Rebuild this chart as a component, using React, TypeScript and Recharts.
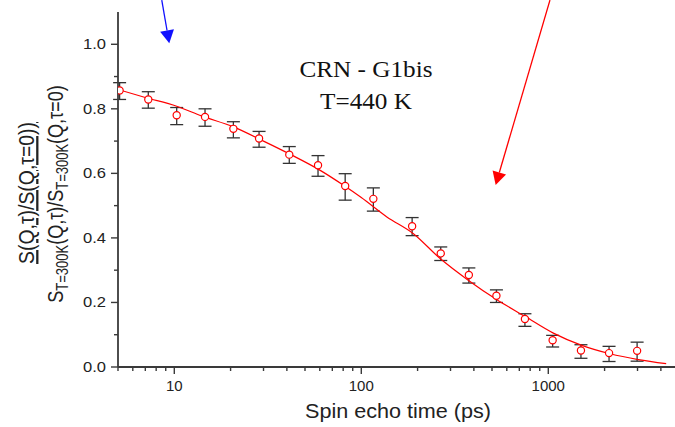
import React from 'react';
import {
  ComposedChart,
  Line,
  Scatter,
  ErrorBar,
  XAxis,
  YAxis,
  ReferenceLine,
} from 'recharts';

// measured points (spin echo time in ps, normalised S)
const echoTime = [5.1, 7.26, 10.3, 14.6, 20.7, 28.4, 41.2, 58.7, 82, 116, 187, 266, 376, 528, 750, 1055, 1495, 2113, 2985];
const sValue = [0.857, 0.829, 0.78, 0.775, 0.738, 0.708, 0.658, 0.625, 0.561, 0.521, 0.436, 0.352, 0.285, 0.221, 0.149, 0.083, 0.051, 0.043, 0.05];
const errLow = [0.028, 0.027, 0.029, 0.029, 0.028, 0.027, 0.027, 0.034, 0.044, 0.038, 0.029, 0.022, 0.025, 0.021, 0.023, 0.021, 0.024, 0.026, 0.032];
const errHigh = [0.024, 0.024, 0.024, 0.025, 0.022, 0.022, 0.025, 0.030, 0.038, 0.034, 0.027, 0.020, 0.022, 0.018, 0.016, 0.015, 0.018, 0.021, 0.027];

// fit curve
const fitTime = [5, 7, 10.3, 14, 20.7, 30, 41.7, 60, 80.4, 100, 137, 190, 264, 373, 529, 750, 1064, 1510, 2138, 3030, 4270];
const fitValue = [0.86, 0.835, 0.808, 0.778, 0.744, 0.7, 0.659, 0.61, 0.563, 0.525, 0.465, 0.413, 0.336, 0.269, 0.209, 0.157, 0.105, 0.067, 0.041, 0.023, 0.0105];

const xTicks = [5, 6, 7, 8, 9, 10, 20, 30, 40, 50, 60, 70, 80, 90, 100, 200, 300, 400, 500, 600, 700, 800, 900, 1000, 2000, 3000, 4000, 5000];
const xMajor = [10, 100, 1000];
const yTicks = [0, 0.1, 0.2, 0.3, 0.4, 0.5, 0.6, 0.7, 0.8, 0.9, 1.0];

// arrows: [start, tip]
const blueArrow = [{ x: 8.57, y: 1.137 }, { x: 9.4, y: 1.003 }];
const redArrow = [{ x: 1021, y: 1.137 }, { x: 523, y: 0.564 }];

const points = echoTime.map((t, i) => ({ x: t, y: sValue[i], err: [errLow[i], errHigh[i]] }));
const fit = fitTime.map((t, i) => ({ x: t, y: fitValue[i] }));

const AXIS = '#3a3a3a';
const SANS = '"Liberation Sans", Arial, sans-serif';
const SERIF = '"Liberation Serif", "Times New Roman", serif';

const isMajorY = (v: number) => Math.round(v * 10) % 2 === 0;

const BottomTick = (p: any) => {
  const v = p.payload.value;
  const major = xMajor.includes(v);
  return (
    <g>
      <line x1={p.x} y1={p.y} x2={p.x} y2={p.y + (major ? 7 : 4)} stroke={AXIS} strokeWidth={1.4} />
      {major && (
        <text x={p.x} y={p.y + 24} textAnchor="middle" fontSize={15} fontFamily={SANS} fill="#222">
          {v}
        </text>
      )}
    </g>
  );
};

const TopTick = (p: any) => {
  const major = xMajor.includes(p.payload.value);
  return <line x1={p.x} y1={p.y} x2={p.x} y2={p.y + (major ? 6 : 4)} stroke={AXIS} strokeWidth={1.4} />;
};

const LeftTick = (p: any) => {
  const v = p.payload.value;
  const major = isMajorY(v);
  return (
    <g>
      <line x1={p.x} y1={p.y} x2={p.x - (major ? 7 : 4)} y2={p.y} stroke={AXIS} strokeWidth={1.4} />
      {major && (
        <text x={p.x - 12} y={p.y + 5} textAnchor="end" fontSize={15} fontFamily={SANS} fill="#222" textLength={23} lengthAdjust="spacingAndGlyphs">
          {v.toFixed(1)}
        </text>
      )}
    </g>
  );
};

const RightTick = (p: any) => {
  const major = isMajorY(p.payload.value);
  return <line x1={p.x} y1={p.y} x2={p.x - (major ? 7 : 4)} y2={p.y} stroke={AXIS} strokeWidth={1.4} />;
};

const arrow = (color: string) => (props: any) => {
  const { x1, y1, x2, y2 } = props;
  const a = Math.atan2(y2 - y1, x2 - x1);
  const len = 13;
  const half = 7;
  const bx = x2 - len * Math.cos(a);
  const by = y2 - len * Math.sin(a);
  const px = -Math.sin(a) * half;
  const py = Math.cos(a) * half;
  return (
    <g>
      <line x1={x1} y1={y1} x2={bx} y2={by} stroke={color} strokeWidth={1.3} />
      <polygon points={`${x2},${y2} ${bx + px},${by + py} ${bx - px},${by - py}`} fill={color} />
    </g>
  );
};

const Dot = (p: any) => <circle cx={p.cx} cy={p.cy} r={3.6} fill="#fff" stroke="#ff0000" strokeWidth={1.2} />;

export default function App() {
  return (
    <div style={{ position: 'absolute', left: 0, top: 0, width: 675, height: 427, overflow: 'hidden', background: '#fff' }}>
      <ComposedChart width={684} height={427} margin={{ top: 12, right: 5, bottom: 0, left: 0 }}>
        <XAxis
          dataKey="x"
          type="number"
          scale="log"
          domain={[5, 5000]}
          allowDataOverflow
          ticks={xTicks}
          interval={0}
          tickSize={0}
          tickMargin={0}
          tick={<BottomTick />}
          axisLine={{ stroke: AXIS, strokeWidth: 1.8 }}
          height={60}
        />
        <XAxis
          xAxisId="top"
          orientation="top"
          dataKey="x"
          type="number"
          scale="log"
          domain={[5, 5000]}
          allowDataOverflow
          ticks={xTicks}
          interval={0}
          tickSize={0}
          tickMargin={0}
          tick={<TopTick />}
          axisLine={{ stroke: AXIS, strokeWidth: 1.8 }}
          height={0}
        />
        <YAxis
          type="number"
          domain={[0, 1.1]}
          allowDataOverflow
          ticks={yTicks}
          interval={0}
          tickSize={0}
          tickMargin={0}
          tick={<LeftTick />}
          axisLine={{ stroke: AXIS, strokeWidth: 1.8 }}
          width={118}
        />
        <YAxis
          yAxisId="right"
          orientation="right"
          type="number"
          domain={[0, 1.1]}
          allowDataOverflow
          ticks={yTicks}
          interval={0}
          tickSize={0}
          tickMargin={0}
          tick={<RightTick />}
          axisLine={{ stroke: AXIS, strokeWidth: 1.8 }}
          width={0}
        />
        <Scatter data={points} dataKey="y" shape={<Dot />} isAnimationActive={false}>
          <ErrorBar dataKey="err" direction="y" width={6.5} stroke="#333" strokeWidth={1.3} />
        </Scatter>
        <Line
          data={fit}
          dataKey="y"
          type="monotone"
          stroke="#ff0000"
          strokeWidth={1.2}
          dot={false}
          activeDot={false}
          isAnimationActive={false}
        />
        <ReferenceLine segment={blueArrow} ifOverflow="visible" shape={arrow('#1010ff')} />
        <ReferenceLine segment={redArrow} ifOverflow="visible" shape={arrow('#ff0000')} />
      </ComposedChart>
      <svg width={675} height={427} style={{ position: 'absolute', left: 0, top: 0, pointerEvents: 'none' }}>
        <text x={366} y={77} textAnchor="middle" fontSize={23} fontFamily={SERIF} fill="#111" textLength={133} lengthAdjust="spacingAndGlyphs">
          CRN - G1bis
        </text>
        <text x={366} y={109} textAnchor="middle" fontSize={23} fontFamily={SERIF} fill="#111" textLength={92} lengthAdjust="spacingAndGlyphs">
          T=440 K
        </text>
        <text x={398} y={418} textAnchor="middle" fontSize={21} fontFamily={SANS} fill="#222" textLength={186} lengthAdjust="spacingAndGlyphs">
          Spin echo time (ps)
        </text>
        <text transform="translate(34,193) rotate(-90) scale(1,1.2)" textAnchor="middle" fontSize={19} fontFamily={SANS} fill="#222" textDecoration="underline" textLength={142} lengthAdjust="spacingAndGlyphs">
          S(Q,τ)/S(Q,τ=0))
        </text>
        <text transform="translate(63,194) rotate(-90) scale(1,1.2)" textAnchor="middle" fontSize={18} fontFamily={SANS} fill="#222">
          <tspan>S</tspan>
          <tspan fontSize={13} dy={4}>T=300K</tspan>
          <tspan dy={-4}>(Q,τ)/S</tspan>
          <tspan fontSize={13} dy={4}>T=300K</tspan>
          <tspan dy={-4}>(Q,τ=0)</tspan>
        </text>
      </svg>
    </div>
  );
}
